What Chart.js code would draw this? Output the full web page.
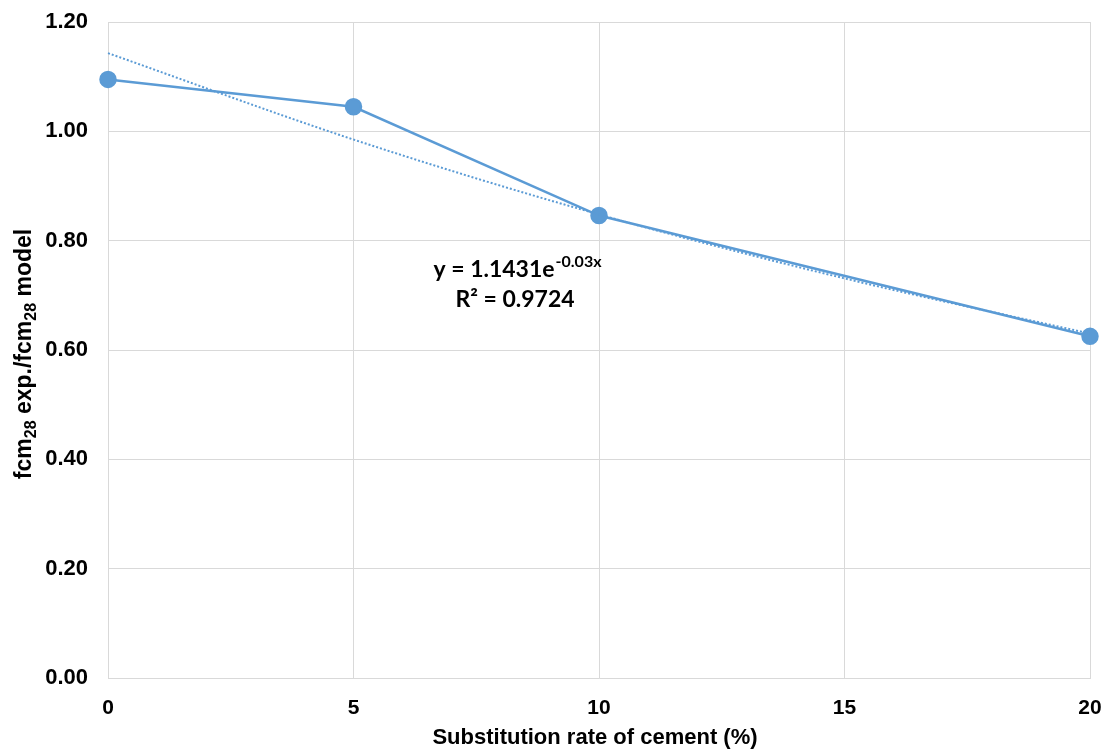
<!DOCTYPE html>
<html>
<head>
<meta charset="utf-8">
<script src="https://cdn.jsdelivr.net/npm/chart.js@4/dist/chart.umd.min.js"></script>
<style>
  html, body { margin: 0; padding: 0; background: #fff; }
  #wrap { width: 1109px; height: 749px; }
</style>
</head>
<body>
<div id="wrap"><canvas id="chart" width="1109" height="749"></canvas></div>
<script>
// substitution rate (%) and measured ratio
const rates = [0, 5, 10, 20];
const ratios = [1.095, 1.045, 0.846, 0.625];
// exponential trendline, values
const trendX = [0, 5, 10, 15, 20];
const trendY = [1.143, 0.985, 0.848, 0.731, 0.630];
const xTicks = [0, 5, 10, 15, 20];
const yTicks = [0, 0.2, 0.4, 0.6, 0.8, 1.0, 1.2];

const blue = "#5b9bd5";
const fontFam = "'Liberation Sans', Arial, sans-serif";

// titles with subscripts + equation box
const textPlugin = {
    id: "texts",
    afterDraw(chart) {
        const ctx = chart.ctx;
        const xs = chart.scales.x, ys = chart.scales.y;
        ctx.save();
        ctx.fillStyle = "#000";
        ctx.textBaseline = "alphabetic";

        // x title
        ctx.font = "bold 22px " + fontFam;
        ctx.textAlign = "center";
        ctx.fillText("Substitution rate of cement (%)", 595, 744);

        // y title, rotated, with subscripts
        const parts = [
            ["fcm", false], ["28", true], [" exp./fcm", false], ["28", true], [" model", false],
        ];
        const big = "bold 23px " + fontFam, small = "bold 16px " + fontFam;
        let total = 0;
        parts.forEach((p) => {
            ctx.font = p[1] ? small : big;
            total += ctx.measureText(p[0]).width;
        });
        ctx.translate(31, 354);
        ctx.rotate(-Math.PI / 2);
        ctx.textAlign = "left";
        let cx = -total / 2;
        parts.forEach((p) => {
            ctx.font = p[1] ? small : big;
            ctx.fillText(p[0], cx, p[1] ? 5 : 0);
            cx += ctx.measureText(p[0]).width;
        });
        ctx.setTransform(1, 0, 0, 1, 0, 0);

        // equation
        const ex = xs.getPixelForValue(8.33);
        const ey1 = ys.getPixelForValue(0.7335);
        const ey2 = ys.getPixelForValue(0.679);
        const eqFont = "bold 23px Lato, 'Liberation Sans', sans-serif";
        const supFont = "bold 16px Lato, 'Liberation Sans', sans-serif";
        ctx.font = eqFont;
        const main = "y = 1.1431e";
        const wMain = ctx.measureText(main).width;
        ctx.font = supFont;
        const sup = "-0.03x";
        const wSup = ctx.measureText(sup).width;
        let sx = ex - (wMain + wSup) / 2;
        ctx.textAlign = "left";
        ctx.font = eqFont;
        ctx.fillText(main, sx, ey1);
        ctx.font = supFont;
        ctx.fillText(sup, sx + wMain + 1, ey1 - 10);

        ctx.font = eqFont;
        ctx.textAlign = "center";
        ctx.fillText("R\u00b2 = 0.9724", xs.getPixelForValue(8.29), ey2);
        ctx.restore();
    },
};

new Chart(document.getElementById("chart"), {
    type: "line",
    data: {
        datasets: [
            {
                label: "Expon. trend",
                data: trendX.map((x, i) => ({ x, y: trendY[i] })),
                borderColor: blue,
                borderWidth: 2,
                borderDash: [2, 2],
                pointRadius: 0,
                cubicInterpolationMode: "monotone",
                fill: false,
                clip: false,
                order: 1,
            },
            {
                label: "fcm28 exp./fcm28 model",
                data: rates.map((x, i) => ({ x, y: ratios[i] })),
                borderColor: blue,
                backgroundColor: blue,
                borderWidth: 2.5,
                pointRadius: 7.5,
                pointBackgroundColor: blue,
                pointBorderColor: blue,
                tension: 0,
                fill: false,
                clip: false,
                order: 2,
            },
        ],
    },
    options: {
        responsive: false,
        animation: false,
        layout: { padding: { top: 22, right: 19, left: 0, bottom: 0 } },
        plugins: { legend: { display: false }, tooltip: { enabled: false } },
        scales: {
            x: {
                type: "linear",
                min: 0,
                max: 20,
                afterBuildTicks: (s) => { s.ticks = xTicks.map((v) => ({ value: v })); },
                grid: { color: "#d9d9d9", drawTicks: false },
                border: { color: "#d9d9d9" },
                ticks: {
                    padding: 18,
                    color: "#000",
                    font: { family: fontFam, size: 21, weight: "bold" },
                },
                afterFit: (s) => { s.height = 71; s.paddingLeft = 0; s.paddingRight = 0; },
            },
            y: {
                min: 0,
                max: 1.2,
                afterBuildTicks: (s) => { s.ticks = yTicks.map((v) => ({ value: v })); },
                grid: { color: "#d9d9d9", drawTicks: false },
                border: { color: "#d9d9d9" },
                ticks: {
                    padding: 20,
                    color: "#000",
                    font: { family: fontFam, size: 22, weight: "bold" },
                    callback: (v) => Number(v).toFixed(2),
                },
                afterFit: (s) => { s.width = 108; s.paddingTop = 0; s.paddingBottom = 0; },
            },
        },
    },
    plugins: [textPlugin],
});
</script>
</body>
</html>
